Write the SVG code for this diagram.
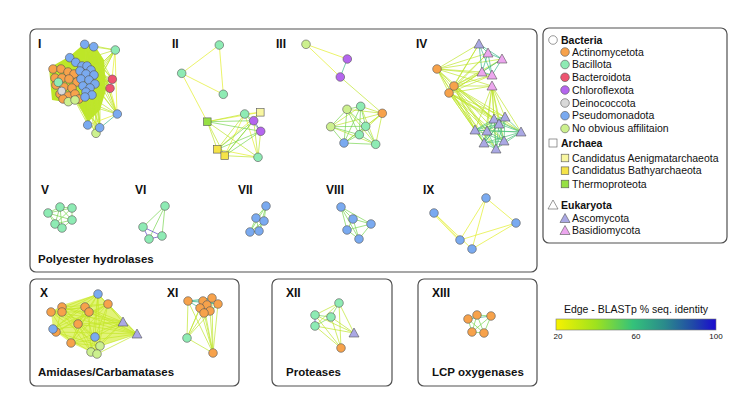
<svg xmlns="http://www.w3.org/2000/svg" width="733" height="414" viewBox="0 0 733 414">
<defs>
<linearGradient id="grad" x1="0" y1="0" x2="1" y2="0">
<stop offset="0" stop-color="#f7f200"/>
<stop offset="0.25" stop-color="#9ee21e"/>
<stop offset="0.48" stop-color="#34c27a"/>
<stop offset="0.68" stop-color="#2a8a8c"/>
<stop offset="0.86" stop-color="#2048a8"/>
<stop offset="1" stop-color="#1a0ad0"/>
</linearGradient>
</defs>
<style>
text{font-family:"Liberation Sans",Arial,sans-serif;fill:#111}
.lb{font-weight:bold;font-size:11.5px}
.rn{font-weight:bold;font-size:12px}
.lh{font-weight:bold;font-size:10.5px}
.li{font-size:10.5px}
.sc{font-size:8px}
.box{fill:#fff;stroke:#505050;stroke-width:1.2}
.n circle,.n rect,.n polygon,.lg circle,.lg rect,.lg polygon{stroke:#555;stroke-width:.6}
.act{fill:#f7a24b}.bac{fill:#8eebb4}.bcd{fill:#ee5470}.chl{fill:#b466ee}.dei{fill:#d9d9d9}.pse{fill:#7aaaf0}.noa{fill:#ccf08e}
.aen{fill:#f8f6a0}.bat{fill:#f5e348}.the{fill:#96e044}.asc{fill:#aaa8e4}.bas{fill:#eca6ee}.hol{fill:#fff}
.e path{fill:none;stroke-width:.7}
.ey{stroke:#e2ee2a}.el{stroke:#bfe52e}.eg{stroke:#78d652}.et{stroke:#3cb88c}.eb{stroke:#5a40c4}
</style>
<rect width="733" height="414" fill="#fff"/>

<!-- boxes -->
<g id="boxes">
<rect class="box" x="30" y="29" width="507" height="243" rx="6"/>
<rect class="box" x="543" y="28" width="184" height="215" rx="6"/>
<rect class="box" x="30" y="279" width="209" height="107" rx="6"/>
<rect class="box" x="272" y="279" width="120" height="107" rx="6"/>
<rect class="box" x="418" y="279" width="119" height="107" rx="6"/>
</g>

<!-- connectors -->
<g id="connectors" class="e">
<!-- I -->
<polygon points="70,56 85,43 95,46 104,60 106,90 100,110 88,122 78,104 52,100 49,68" fill="#bde628"/>
<path class="el" stroke-width=".5" d="M85 44L115 50M94 47L115 50M76 62L115 50M95 75L115 50M96 86L115 50M90 96L115 50M80 103L115 50M100 65L115 50M72 95L115 50
M85 44L112 79M94 47L112 79M76 62L112 79M95 75L112 79M96 86L112 79M90 96L112 79M80 103L112 79M100 65L112 79M72 95L112 79
M85 44L110 88M94 47L110 88M76 62L110 88M95 75L110 88M96 86L110 88M90 96L110 88M80 103L110 88M100 65L110 88M72 95L110 88
M85 44L117 114M94 47L117 114M76 62L117 114M95 75L117 114M96 86L117 114M90 96L117 114M80 103L117 114M100 65L117 114M72 95L117 114
M85 44L88 125M94 47L88 125M76 62L88 125M95 75L88 125M96 86L88 125M90 96L88 125M80 103L88 125M100 65L88 125M72 95L88 125
M85 44L100 128M94 47L100 128M76 62L100 128M95 75L100 128M96 86L100 128M90 96L100 128M80 103L100 128M100 65L100 128M72 95L100 128
M76 62L96 133M95 75L96 133M96 86L96 133M90 96L96 133M80 103L96 133M72 95L96 133"/>
<path class="ey" d="M115 50L117 114M115 50L112 79M117 114L88 125M117 114L110 88"/>
<path class="et" stroke-width="1" d="M117 114L100 128"/>
<!-- II -->
<path class="ey" d="M219.3 45L181.7 73.3M219.3 45L223.3 94.3M181.7 73.3L223.3 94.3M181.7 73.3L207.3 121.7M207.3 121.7L260.3 112.3M244.7 114L260.3 112.3M217.3 149.3L260.3 112.3M224.7 155.7L244.7 114M217.3 149.3L258 157.3M244.7 114L258 157.3"/>
<path class="el" d="M207.3 121.7L244.7 114M207.3 121.7L217.3 149.3M207.3 121.7L224.7 155.7M207.3 121.7L258 157.3M217.3 149.3L244.7 114M224.7 155.7L260.3 112.3M224.7 155.7L258 157.3M260.7 131.3L258 157.3M253.7 120.7L258 157.3"/>
<path class="eg" d="M207.3 121.7L253.7 120.7M207.3 121.7L260.7 131.3M217.3 149.3L253.7 120.7M217.3 149.3L260.7 131.3M224.7 155.7L253.7 120.7M224.7 155.7L260.7 131.3M244.7 114L260.7 131.3M244.7 114L253.7 120.7"/>
<path class="eb" d="M253.7 120.7L260.7 131.3"/>
<!-- III -->
<path class="ey" d="M306 44.3L347.3 59M306 44.3L340.3 77"/>
<path class="et" stroke-width="1" d="M347.3 59L340.3 77"/>
<path class="el" d="M340.3 77L382.3 113.3M347 109.3L382.3 113.3M360.7 106.3L382.3 113.3M330.7 126.7L382.3 113.3M365.7 126.3L382.3 113.3M359.3 134.7L382.3 113.3M344 143L382.3 113.3M375.7 144.3L382.3 113.3M347 109.3L375.7 144.3M330.7 126.7L375.7 144.3M360.7 106.3L375.7 144.3M330.7 126.7L360.7 106.3"/>
<path class="eg" d="M347 109.3L360.7 106.3M347 109.3L330.7 126.7M347 109.3L365.7 126.3M347 109.3L359.3 134.7M347 109.3L344 143M360.7 106.3L365.7 126.3M360.7 106.3L359.3 134.7M360.7 106.3L344 143M330.7 126.7L365.7 126.3M330.7 126.7L359.3 134.7M330.7 126.7L344 143M365.7 126.3L359.3 134.7M365.7 126.3L344 143M365.7 126.3L375.7 144.3M359.3 134.7L344 143M359.3 134.7L375.7 144.3M344 143L375.7 144.3"/>
<!-- IV -->
<path class="el" stroke-width=".6" d="M437 69L479 44M437 69L488 53M437 69L502 59M437 69L482 72M437 69L492 75M437 69L492 86M437 69L494 119M437 69L475 130M437 69L487 131M437 69L484 143
M454 86L479 44M454 86L488 53M454 86L502 59M454 86L482 72M454 86L492 75M454 86L492 86M454 86L494 119M454 86L505 117M454 86L499 124M454 86L475 130M454 86L487 131M454 86L521 132M454 86L504 141M454 86L484 143M454 86L496 149
M449 93L479 44M449 93L488 53M449 93L502 59M449 93L482 72M449 93L492 75M449 93L492 86M449 93L494 119M449 93L505 117M449 93L499 124M449 93L475 130M449 93L487 131M449 93L521 132M449 93L504 141M449 93L484 143M449 93L496 149
M492 86L494 119M492 86L505 117M492 86L499 124M492 86L475 130M492 86L487 131M492 86L521 132M492 86L504 141M492 86L484 143M492 86L496 149M437 69L454 86M437 69L449 93M454 86L449 93"/>
<path class="et" d="M479 44L488 53M479 44L502 59M488 53L502 59M488 53L482 72M488 53L492 75M502 59L492 75M482 72L492 75M502 59L482 72M479 44L482 72M479 44L492 75"/>
<path stroke="#4cc27a" d="M494 119L505 117M494 119L499 124M494 119L475 130M494 119L487 131M494 119L521 132M494 119L504 141M494 119L484 143M494 119L496 149M505 117L499 124M505 117L475 130M505 117L487 131M505 117L521 132M505 117L504 141M505 117L484 143M505 117L496 149M499 124L475 130M499 124L487 131M499 124L521 132M499 124L504 141M499 124L484 143M499 124L496 149M475 130L487 131M475 130L521 132M475 130L504 141M475 130L484 143M475 130L496 149M487 131L521 132M487 131L504 141M487 131L484 143M487 131L496 149M521 132L504 141M521 132L484 143M521 132L496 149M504 141L484 143M504 141L496 149M484 143L496 149"/>
<!-- V -->
<path class="eg" d="M48 213L60 207M48 213L72 208M48 213L55 224M48 213L72 220M60 207L72 208M60 207L55 224M60 207L72 220M60 207L62 228M72 208L72 220M72 208L55 224M55 224L72 220M55 224L62 228M72 220L62 228M48 213L62 228"/>
<!-- VI -->
<path class="eg" d="M165 206L143 227M165 206L149 239M165 206L162 236"/>
<path class="eb" d="M143 227L149 239M143 227L162 236M149 239L162 236"/>
<!-- VII -->
<path class="eg" d="M266 206L256 218M266 206L264 221M266 206L250 232M266 206L259 231M256 218L264 221M256 218L250 232M256 218L259 231M264 221L250 232M264 221L259 231M250 232L259 231"/>
<!-- VIII -->
<path class="eg" d="M341 207L353 219M341 207L371 224M341 207L347 230M341 207L359 239M353 219L371 224M353 219L347 230M353 219L359 239M371 224L347 230M371 224L359 239M347 230L359 239"/>
<!-- IX -->
<path class="ey" d="M434 213L460 240M434 214.5L460 241.5M434 213L472 249M486 198L460 240M486 198L472 249M486 198L516 223M516 223L460 240M516 223L472 249"/>
<!-- X -->
<polygon points="51,312 62,305 98,294 108,304 123,322 137,334 100,346 96,354 91,352 71,343 56,332 53,329" fill="#d6ee40" opacity=".7"/>
<path stroke="#c4e628" stroke-width=".55" d="M98 294L51 312M98 294L62 312M98 294L78 324M98 294L53 329M98 294L71 343M98 294L95 337M98 294L100 346M98 294L91 352M98 294L123 322M98 294L137 334
M108 304L51 312M108 304L62 307M108 304L78 324M108 304L56 332M108 304L71 343M108 304L95 337M108 304L97 354M108 304L123 322M108 304L137 334
M62 307L123 322M62 307L137 334M51 312L123 322M51 312L137 334M85 307L123 322M85 307L137 334M89 312L137 334M78 324L123 322M78 324L137 334M53 329L123 322M56 332L137 334M71 343L123 322M71 343L137 334M95 337L123 322M100 346L137 334M91 352L123 322M97 354L137 334M100 346L123 322
M62 307L100 346M62 312L91 352M85 307L97 354M89 312L71 343M51 312L100 346M53 329L108 304M62 307L95 337M85 307L53 329M89 312L56 332M78 324L97 354M62 312L89 312M51 312L85 307M56 332L100 346M71 343L100 346M53 329L91 352M85 307L71 343M89 312L91 352M62 307L56 332M51 312L71 343M62 312L95 337M78 324L51 312M78 324L91 352M123 322L137 334"/>
<!-- XI -->
<path class="el" d="M188 301L187 338M188 301L213 353M200 308L187 338M204 313L187 338M210 311L213 353M218 304L213 353M212 298L213 353M203 301L187 338M203 301L213 353M200 308L213 353M204 313L213 353M187 338L213 353M218 304L187 338"/>
<path class="et" d="M188 301L203 301M203 301L212 298M212 298L218 304M188 301L200 308M203 301L200 308M218 304L210 311M200 308L204 313M210 311L204 313M203 301L218 304M188 301L218 304M188 301L212 298M200 308L210 311"/>
<!-- XII -->
<path class="el" d="M339 303L315 315M339 303L315 326M339 303L354 333M339 303L341 348M315 315L354 333M315 326L354 333M315 315L341 348M331 317L341 348M315 326L341 348M331 317L354 333"/>
<path class="eg" d="M339 303L331 317M315 315L331 317M331 317L315 326"/>
<path class="eb" d="M315 315L315 326"/>
<!-- XIII -->
<path class="eg" d="M468 319L477 315M477 315L491 316M468 319L472 332M472 332L484 333M491 316L484 333M477 315L484 333M468 319L484 333M477 315L472 332M491 316L472 332"/>
<path class="et" d="M468 319L491 316"/>
</g>

<!-- cluster nodes -->
<g id="cluster-I" class="n">
<circle class="act" cx="53" cy="69" r="4.3"/><circle class="act" cx="61" cy="69" r="4.3"/><circle class="act" cx="68" cy="72" r="4.3"/><circle class="act" cx="74" cy="74" r="4.3"/>
<circle class="act" cx="55" cy="78" r="4.3"/><circle class="act" cx="62" cy="78" r="4.3"/><circle class="act" cx="69" cy="79" r="4.3"/><circle class="act" cx="77" cy="82" r="4.3"/>
<circle class="act" cx="56" cy="85" r="4.3"/><circle class="act" cx="64" cy="87" r="4.3"/><circle class="act" cx="72" cy="88" r="4.3"/><circle class="act" cx="60" cy="94" r="4.3"/>
<circle class="act" cx="68" cy="96" r="4.3"/><circle class="act" cx="75" cy="94" r="4.3"/><circle class="act" cx="79" cy="99" r="4.3"/><circle class="act" cx="63" cy="99" r="4.3"/>
<circle class="dei" cx="61.7" cy="91" r="4"/>
<circle class="bac" cx="58.3" cy="82.3" r="4.3"/>
<circle class="noa" cx="68.3" cy="101.7" r="4.3"/><circle class="noa" cx="75" cy="100" r="4.3"/>
<circle class="pse" cx="84.7" cy="44.3" r="4.3"/><circle class="pse" cx="93.7" cy="46.7" r="4.3"/>
<circle class="pse" cx="69.7" cy="57.7" r="4.3"/><circle class="pse" cx="75.7" cy="62.3" r="4.3"/>
<circle class="pse" cx="82" cy="66" r="4.3"/><circle class="pse" cx="87" cy="66" r="4.3"/><circle class="pse" cx="91" cy="70" r="4.3"/><circle class="pse" cx="80" cy="71" r="4.3"/>
<circle class="pse" cx="86" cy="74" r="4.3"/><circle class="pse" cx="94" cy="75" r="4.3"/><circle class="pse" cx="81" cy="79" r="4.3"/><circle class="pse" cx="89" cy="80" r="4.3"/>
<circle class="pse" cx="95" cy="84" r="4.3"/><circle class="pse" cx="83" cy="86" r="4.3"/><circle class="pse" cx="90" cy="88" r="4.3"/><circle class="pse" cx="86" cy="92" r="4.3"/>
<circle class="pse" cx="92" cy="95" r="4.3"/><circle class="pse" cx="85" cy="97" r="4.3"/>
<circle class="bac" cx="115.3" cy="50" r="4.3"/>
<circle class="bcd" cx="112.3" cy="79.3" r="4.3"/><circle class="bcd" cx="110" cy="88.3" r="4.3"/>
<circle class="pse" cx="117.3" cy="114" r="4.3"/><circle class="pse" cx="87.7" cy="125" r="4.3"/>
<circle class="noa" cx="96" cy="133.3" r="4.3"/><circle class="pse" cx="99.7" cy="127.7" r="4.3"/>
</g>
<g id="cluster-II" class="n">
<circle class="bac" cx="219.3" cy="45" r="4.3"/><circle class="bac" cx="181.7" cy="73.3" r="4.3"/><circle class="bac" cx="223.3" cy="94.3" r="4.3"/>
<rect class="the" x="203.5" y="117.9" width="7.6" height="7.6"/>
<circle class="bac" cx="244.7" cy="114" r="4.3"/>
<rect class="aen" x="256.5" y="108.5" width="7.6" height="7.6"/>
<circle class="chl" cx="253.7" cy="120.7" r="4.3"/><circle class="chl" cx="260.7" cy="131.3" r="4.3"/>
<rect class="bat" x="213.5" y="145.5" width="7.6" height="7.6"/>
<rect class="bat" x="220.9" y="151.9" width="7.6" height="7.6"/>
<circle class="bac" cx="258" cy="157.3" r="4.3"/>
</g>
<g id="cluster-III" class="n">
<circle class="noa" cx="306" cy="44.3" r="4.3"/><circle class="chl" cx="347.3" cy="59" r="4.3"/><circle class="chl" cx="340.3" cy="77" r="4.3"/>
<circle class="noa" cx="347" cy="109.3" r="4.3"/><circle class="bac" cx="360.7" cy="106.3" r="4.3"/><circle class="act" cx="382.3" cy="113.3" r="4.3"/>
<circle class="noa" cx="330.7" cy="126.7" r="4.3"/><circle class="bac" cx="365.7" cy="126.3" r="4.3"/><circle class="bac" cx="359.3" cy="134.7" r="4.3"/>
<circle class="pse" cx="344" cy="143" r="4.3"/><circle class="bac" cx="375.7" cy="144.3" r="4.3"/>
</g>
<g id="cluster-IV" class="n">
<circle class="act" cx="437" cy="69" r="4.3"/><circle class="act" cx="454" cy="86" r="4.3"/><circle class="act" cx="449" cy="93" r="4.3"/>
<polygon class="asc" points="479,39 484,48 474,48"/>
<polygon class="bas" points="488,48 493,57 483,57"/>
<polygon class="bas" points="502,54 507,63 497,63"/>
<polygon class="bas" points="482,67 487,76 477,76"/>
<polygon class="bas" points="492,70 497,79 487,79"/>
<polygon class="bas" points="492,81 497,90 487,90"/>
<polygon class="asc" points="494,114 499,123 489,123"/>
<polygon class="asc" points="505,112 510,121 500,121"/>
<polygon class="asc" points="499,119 504,128 494,128"/>
<polygon class="asc" points="475,125 480,134 470,134"/>
<polygon class="asc" points="487,126 492,135 482,135"/>
<polygon class="asc" points="521,127 526,136 516,136"/>
<polygon class="asc" points="504,136 509,145 499,145"/>
<polygon class="asc" points="484,138 489,147 479,147"/>
<polygon class="asc" points="496,144 501,153 491,153"/>
</g>
<g id="cluster-V" class="n">
<circle class="bac" cx="48" cy="213" r="4.3"/><circle class="bac" cx="60" cy="207" r="4.3"/><circle class="bac" cx="72" cy="208" r="4.3"/>
<circle class="bac" cx="55" cy="224" r="4.3"/><circle class="bac" cx="72" cy="220" r="4.3"/><circle class="bac" cx="62" cy="228" r="4.3"/>
</g>
<g id="cluster-VI" class="n">
<circle class="bac" cx="165" cy="206" r="4.3"/><circle class="bac" cx="143" cy="227" r="4.3"/><circle class="bac" cx="149" cy="239" r="4.3"/><circle class="bac" cx="162" cy="236" r="4.3"/>
</g>
<g id="cluster-VII" class="n">
<circle class="pse" cx="266" cy="206" r="4.3"/><circle class="pse" cx="256" cy="218" r="4.3"/><circle class="pse" cx="264" cy="221" r="4.3"/><circle class="pse" cx="250" cy="232" r="4.3"/><circle class="pse" cx="259" cy="231" r="4.3"/>
</g>
<g id="cluster-VIII" class="n">
<circle class="pse" cx="341" cy="207" r="4.3"/><circle class="pse" cx="353" cy="219" r="4.3"/><circle class="pse" cx="371" cy="224" r="4.3"/><circle class="pse" cx="347" cy="230" r="4.3"/><circle class="pse" cx="359" cy="239" r="4.3"/>
</g>
<g id="cluster-IX" class="n">
<circle class="pse" cx="434" cy="213" r="4.3"/><circle class="pse" cx="486" cy="198" r="4.3"/><circle class="pse" cx="516" cy="223" r="4.3"/><circle class="pse" cx="460" cy="240" r="4.3"/><circle class="pse" cx="472" cy="249" r="4.3"/>
</g>
<g id="cluster-X" class="n">
<circle class="pse" cx="98" cy="294" r="4.3"/><circle class="act" cx="108" cy="304" r="4.3"/>
<circle class="act" cx="51" cy="312" r="4.3"/><circle class="act" cx="62" cy="307" r="4.3"/><circle class="act" cx="62" cy="312" r="4.3"/>
<circle class="act" cx="85" cy="307" r="4.3"/><circle class="act" cx="89" cy="312" r="4.3"/><circle class="act" cx="78" cy="324" r="4.3"/>
<circle class="act" cx="56" cy="332" r="4.3"/><circle class="pse" cx="53" cy="329" r="4.3"/><circle class="act" cx="71" cy="343" r="4.3"/>
<circle class="pse" cx="95" cy="337" r="4.3"/><circle class="noa" cx="100" cy="346" r="4.3"/><circle class="noa" cx="91" cy="352" r="4.3"/><circle class="noa" cx="97" cy="354" r="4.3"/>
<polygon class="asc" points="123,317 128,326 118,326"/>
<polygon class="asc" points="137,329 142,338 132,338"/>
</g>
<g id="cluster-XI" class="n">
<circle class="act" cx="188" cy="301" r="4.3"/><circle class="act" cx="203" cy="301" r="4.3"/><circle class="act" cx="212" cy="298" r="4.3"/><circle class="act" cx="218" cy="304" r="4.3"/>
<circle class="act" cx="207" cy="305" r="4.3"/><circle class="act" cx="200" cy="308" r="4.3"/><circle class="act" cx="210" cy="311" r="4.3"/><circle class="act" cx="204" cy="313" r="4.3"/>
<circle class="bac" cx="187" cy="338" r="4.3"/><circle class="act" cx="213" cy="353" r="4.3"/>
</g>
<g id="cluster-XII" class="n">
<circle class="bac" cx="339" cy="303" r="4.3"/><circle class="bac" cx="315" cy="315" r="4.3"/><circle class="bac" cx="331" cy="317" r="4.3"/><circle class="bac" cx="315" cy="326" r="4.3"/>
<polygon class="asc" points="354,328 359,337 349,337"/>
<circle class="act" cx="341" cy="348" r="4.3"/>
</g>
<g id="cluster-XIII" class="n">
<circle class="act" cx="468" cy="319" r="4.3"/><circle class="act" cx="477" cy="315" r="4.3"/><circle class="act" cx="491" cy="316" r="4.3"/><circle class="act" cx="472" cy="332" r="4.3"/><circle class="act" cx="484" cy="333" r="4.3"/>
</g>

<!-- labels -->
<g id="labels">
<text class="rn" x="38" y="48">I</text>
<text class="rn" x="172" y="48">II</text>
<text class="rn" x="276" y="48">III</text>
<text class="rn" x="416" y="48">IV</text>
<text class="rn" x="41" y="194">V</text>
<text class="rn" x="135" y="194">VI</text>
<text class="rn" x="238" y="194">VII</text>
<text class="rn" x="326" y="194">VIII</text>
<text class="rn" x="423" y="194">IX</text>
<text class="lb" x="38" y="263">Polyester hydrolases</text>
<text class="rn" x="40" y="297">X</text>
<text class="rn" x="167" y="297">XI</text>
<text class="lb" x="38" y="376">Amidases/Carbamatases</text>
<text class="rn" x="286" y="297">XII</text>
<text class="lb" x="286" y="376">Proteases</text>
<text class="rn" x="432" y="297">XIII</text>
<text class="lb" x="432" y="376">LCP oxygenases</text>
</g>

<!-- taxonomy legend -->
<g id="legend-taxa" class="lg">
<circle class="hol" cx="553" cy="40" r="4.3"/><text class="lh" x="561" y="44">Bacteria</text>
<circle class="act" cx="565" cy="52" r="4.3"/><text class="li" x="572" y="55.5">Actinomycetota</text>
<circle class="bac" cx="565" cy="64.5" r="4.3"/><text class="li" x="572" y="68">Bacillota</text>
<circle class="bcd" cx="565" cy="77.3" r="4.3"/><text class="li" x="572" y="81">Bacteroidota</text>
<circle class="chl" cx="565" cy="90" r="4.3"/><text class="li" x="572" y="93.7">Chloroflexota</text>
<circle class="dei" cx="565" cy="103" r="4.3"/><text class="li" x="572" y="106.7">Deinococcota</text>
<circle class="pse" cx="565" cy="115.7" r="4.3"/><text class="li" x="572" y="119.4">Pseudomonadota</text>
<circle class="noa" cx="565" cy="128.5" r="4.3"/><text class="li" x="572" y="132.2">No obvious affilitaion</text>
<rect class="hol" x="549" y="139" width="8" height="8"/><text class="lh" x="561" y="147">Archaea</text>
<rect class="aen" x="561.2" y="154.2" width="7.6" height="7.6"/><text class="li" x="572" y="161.7">Candidatus Aenigmatarchaeota</text>
<rect class="bat" x="561.2" y="166.9" width="7.6" height="7.6"/><text class="li" x="572" y="174.4">Candidatus Bathyarchaeota</text>
<rect class="the" x="561.2" y="180.2" width="7.6" height="7.6"/><text class="li" x="572" y="187.7">Thermoproteota</text>
<polygon class="hol" points="553,200 558,209 548,209"/><text class="lh" x="561" y="209">Eukaryota</text>
<polygon class="asc" points="565,213.5 570,222.5 560,222.5"/><text class="li" x="572" y="222">Ascomycota</text>
<polygon class="bas" points="565,225.5 570,234.5 560,234.5"/><text class="li" x="572" y="234">Basidiomycota</text>
</g>

<!-- edge colour scale -->
<g id="legend-scale">
<text class="li" x="636" y="313" text-anchor="middle">Edge - BLASTp % seq. identity</text>
<rect x="556" y="319" width="160" height="11" fill="url(#grad)" stroke="#777" stroke-width=".6"/>
<text class="sc" x="558" y="339" text-anchor="middle">20</text>
<text class="sc" x="636" y="339" text-anchor="middle">60</text>
<text class="sc" x="716" y="339" text-anchor="middle">100</text>
</g>
</svg>
